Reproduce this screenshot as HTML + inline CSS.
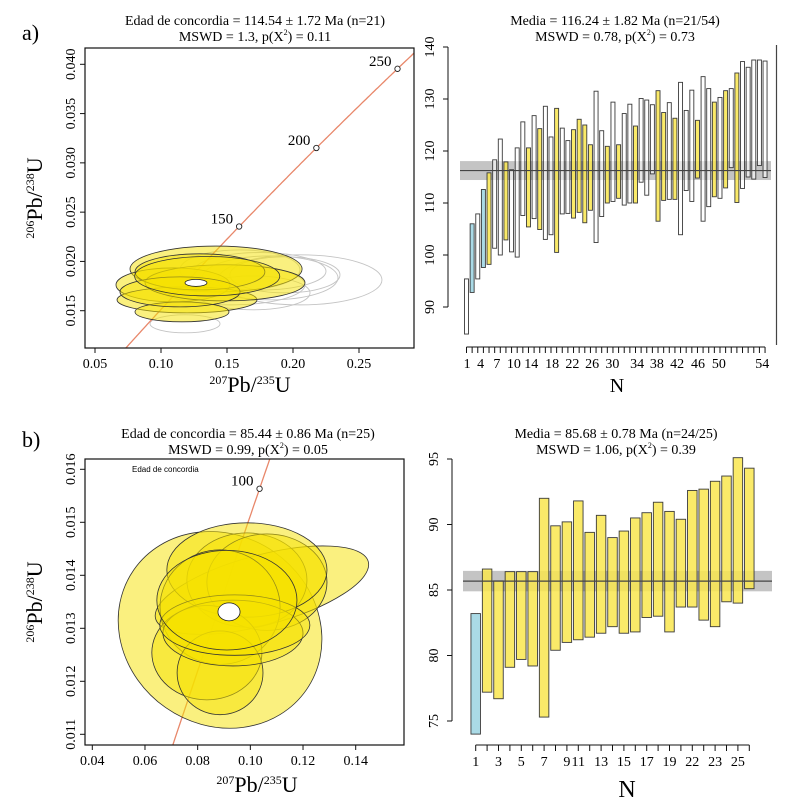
<!DOCTYPE html>
<html><head><meta charset="utf-8"><title>Concordia and weighted mean plots</title>
<style>
html,body{margin:0;padding:0;background:#fff;overflow:hidden;}
svg{display:block;font-family:"Liberation Serif",serif;}
</style></head>
<body>
<svg id="fig" width="808" height="809" viewBox="0 0 808 809" xmlns="http://www.w3.org/2000/svg">
<g id="tl"></g>
<g id="tr"></g>
<g id="bl"></g>
<g id="br"></g>
</svg>
<script>
// ---------- Panel a) weighted mean data ----------
var aTops = [95.4,106.0,107.9,112.6,115.8,118.3,122.3,117.9,116.4,120.6,125.6,120.6,126.8,124.3,128.6,122.7,128.2,124.4,122.0,124.1,126.1,125.0,121.2,131.5,123.9,120.9,129.4,121.2,127.2,129.0,124.8,130.1,129.8,128.9,131.6,127.4,129.3,126.3,133.2,127.8,131.7,125.9,134.3,132.0,129.4,130.3,131.6,132.0,135.0,137.2,136.1,137.5,137.5,137.3];
var aBots = [84.8,92.8,95.4,97.6,98.2,101.3,100.0,102.9,100.6,99.6,107.6,105.4,107.0,104.9,103.0,103.9,100.5,107.9,108.0,107.1,108.2,106.2,108.6,102.4,107.4,110.0,110.3,110.9,109.6,110.0,110.0,114.0,111.5,115.6,106.5,110.5,110.7,110.7,103.9,112.4,110.3,114.8,106.5,109.3,111.2,110.9,112.9,116.8,110.1,112.8,115.0,114.6,117.2,114.9];
var aTypes = "wbwbywwywwwywywwywwyyyywwywywwywwwyywywwwywwywywywwwww";
var aMean = 116.24, aErr = 1.82;
var aYTicks = [90,100,110,120,130,140];
var aXTickLabels = ["1","4","7","10","14","18","22","26","30","34","38","42","46","50","54"];
var aXTickAt = [1.1,3.5,6.4,9.4,12.5,16.2,19.8,23.3,26.9,31.3,34.8,38.4,42.1,45.8,53.5];

// ---------- Panel b) weighted mean data ----------
var bTops = [83.2,86.6,85.7,86.4,86.4,86.4,92.0,89.9,90.2,91.8,89.4,90.7,89.0,89.5,90.5,90.9,91.7,91.0,90.4,92.6,92.7,93.3,93.7,95.1,94.3];
var bBots = [74.0,77.2,76.7,79.1,79.7,79.2,75.3,80.4,81.0,81.2,81.4,81.7,82.2,81.7,81.8,82.9,83.0,81.8,83.7,83.7,82.7,82.2,84.1,84.0,85.1];
var bTypes = "byyyyyyyyyyyyyyyyyyyyyyyy";
var bMean = 85.68, bErr = 0.78;
var bYTicks = [75,80,85,90,95];
var bXTickLabels = ["1","3","5","7","9","11","13","15","17","19","22","23","25"];
var bXTickAt = [1,3,5,7,9,10,12,14,16,18,20,22,24];

// ---------- Concordia a) ellipses (data units) ----------
var aEllX = [0.1417,0.1091,0.1197,0.1159,0.1485,0.1295,0.1144,0.1350];
var aEllY = [0.01923,0.01762,0.01610,0.01488,0.01783,0.01894,0.01691,0.01850];
var aEllSX = [0.0652,0.0432,0.0530,0.0356,0.0606,0.0492,0.0455,0.0550];
var aEllSY = [0.00233,0.00172,0.00132,0.00101,0.00183,0.00183,0.00152,0.00200];
var aGrayX = [0.1826,0.2053,0.1697,0.1182,0.1598,0.1939,0.1523,0.1750];
var aGrayY = [0.01833,0.01813,0.01681,0.01367,0.01914,0.01864,0.01762,0.01900];
var aGraySX = [0.0515,0.0621,0.0432,0.0265,0.0455,0.0417,0.0568,0.0500];
var aGraySY = [0.00223,0.00254,0.00172,0.00091,0.00203,0.00183,0.00203,0.00190];
var aMeanEll = [0.1265,0.01782,0.0083,0.00036];
var aAges = [150,200,250];
var aXTicks = [0.05,0.10,0.15,0.20,0.25];
var aYTicksC = [0.015,0.020,0.025,0.030,0.035,0.040];

// ---------- Concordia b) ellipses ----------
var bEllX = [0.0885,0.1044,0.0987,0.1063,0.0987,0.0885,0.0835,0.0885,0.0934,0.0941,0.0911];
var bEllY = [0.01297,0.01372,0.01391,0.01387,0.01410,0.01340,0.01254,0.01216,0.01291,0.01306,0.01353];
var bEllSX = [0.0399,0.0418,0.0228,0.0228,0.0304,0.0228,0.0209,0.0163,0.0266,0.0285,0.0266];
var bEllSY = [0.00179,0.00066,0.00089,0.00091,0.00089,0.00108,0.00089,0.00079,0.00062,0.00057,0.00094];
var bEllRot = [35,-15,0,0,0,0,0,0,0,0,0];
var bMeanEll = [0.0919,0.01331,0.0042,0.00017];
var bAges = [100];
var bXTicks = [0.04,0.06,0.08,0.10,0.12,0.14];
var bYTicksC = [0.011,0.012,0.013,0.014,0.015,0.016];

var NS = "http://www.w3.org/2000/svg";
function mk(parent, tag, attrs, text){
  var e = document.createElementNS(NS, tag);
  for (var k in attrs) e.setAttribute(k, attrs[k]);
  if (text !== undefined) e.textContent = text;
  parent.appendChild(e);
  return e;
}
var L238 = 1.55125e-10, L235 = 9.8485e-10;
function conc(t){ return [Math.exp(L235*t*1e6)-1, Math.exp(L238*t*1e6)-1]; }

function ratioLabel(g, x, y, rot, top, bot, name){
  var t = mk(g, "text", {x:x, y:y, "font-size":22, "text-anchor":"middle", transform: rot ? "rotate(-90 "+x+" "+y+")" : ""});
  
  
  mk(t, "tspan", {"font-size":12, dy:-8}, top);
  mk(t, "tspan", {dy:8}, "Pb/");
  mk(t, "tspan", {"font-size":12, dy:-8}, bot);
  mk(t, "tspan", {dy:8}, "U");
}
function title(g, cx, y1, l1, l2pre, l2post, name){
  var t = mk(g, "text", {x:cx, y:y1, "font-size":14, "text-anchor":"middle"}, l1);
  
  
  var t2 = mk(g, "text", {x:cx, y:y1+16, "font-size":14, "text-anchor":"middle"});
  
  
  mk(t2, "tspan", {}, l2pre);
  mk(t2, "tspan", {"font-size":8, dy:-6}, "2");
  mk(t2, "tspan", {dy:6}, l2post);
}

function concordia(g, box, xd, yd, xs, ys, xTicks, yTicks, yFmt, xFmt, ell, gray, meanE, ages, ageRange){
  function sx(v){ return box.x0 + (v - xd)*xs; }
  function sy(v){ return box.yref - (v - yd)*ys; }
  var clipId = "clip"+box.id;
  var cp = mk(mk(g,"defs",{}),"clipPath",{id:clipId});
  mk(cp,"rect",{x:box.l, y:box.t, width:box.r-box.l, height:box.b-box.t});
  var inner = mk(g,"g",{"clip-path":"url(#"+clipId+")"});
  
  
  if (gray) for (var i=0;i<gray.x.length;i++){
    var ge = mk(inner,"ellipse",{cx:sx(gray.x[i]), cy:sy(gray.y[i]), rx:gray.sx[i]*xs, ry:gray.sy[i]*ys, fill:"none", stroke:"#c4c4c4", "stroke-width":0.9});
    
    
  }
  var pts = [];
  for (var t=ageRange[0]; t<=ageRange[1]; t+=1){ var c = conc(t); pts.push(sx(c[0]).toFixed(1)+","+sy(c[1]).toFixed(1)); }
  var cl = mk(inner,"polyline",{points:pts.join(" "), fill:"none", stroke:"#e8876a", "stroke-width":1.3});
  
  
  for (var i=0;i<ell.x.length;i++){
    var cx = sx(ell.x[i]), cy = sy(ell.y[i]);
    var rot = ell.rot ? ell.rot[i] : 0;
    var e = mk(inner,"ellipse",{cx:cx, cy:cy, rx:ell.sx[i]*xs, ry:ell.sy[i]*ys, fill:"#f6e200", "fill-opacity":0.5, stroke:"#333", "stroke-width":0.8, transform:"rotate("+rot+" "+cx+" "+cy+")"});
    
    
  }
  var me = mk(inner,"ellipse",{cx:sx(meanE[0]), cy:sy(meanE[1]), rx:meanE[2]*xs, ry:meanE[3]*ys, fill:"#fff", stroke:"#222", "stroke-width":0.8});
  
  
  for (var i=0;i<ages.length;i++){
    var c = conc(ages[i]);
    var m = mk(inner,"circle",{cx:sx(c[0]), cy:sy(c[1]), r:2.7, fill:"#fff", stroke:"#222", "stroke-width":0.9});
    
    
    var ml = mk(inner,"text",{x:sx(c[0])-6, y:sy(c[1])-3, "font-size":15, "text-anchor":"end"}, String(ages[i]));
    
    
  }
  var fr = mk(g,"rect",{x:box.l, y:box.t, width:box.r-box.l, height:box.b-box.t, fill:"none", stroke:"#111", "stroke-width":1.2});
  
  
  for (var i=0;i<xTicks.length;i++){
    var x = sx(xTicks[i]);
    var tk = mk(g,"line",{x1:x, x2:x, y1:box.b, y2:box.b+5, stroke:"#111"});
    
    
    var tl = mk(g,"text",{x:x, y:box.b+20, "font-size":14, "text-anchor":"middle"}, xTicks[i].toFixed(xFmt));
    
    
  }
  for (var i=0;i<yTicks.length;i++){
    var y = sy(yTicks[i]);
    var tk = mk(g,"line",{x1:box.l-5, x2:box.l, y1:y, y2:y, stroke:"#111"});
    
    
    var lx = box.l-10;
    var tl = mk(g,"text",{x:lx, y:y, "font-size":14, "text-anchor":"middle", transform:"rotate(-90 "+lx+" "+y+")"}, yTicks[i].toFixed(yFmt));
    
    
  }
}

function wmean(g, ax, tops, bots, types, mean, err, yTicks, xLabels, xAt, n){
  function sx(N){ return ax.x1 + (N-1)*ax.dx; }
  function sy(v){ return ax.yref - (v - ax.vref)*ax.k; }
  var band = mk(g,"rect",{x:ax.bl, y:sy(mean+err), width:ax.br-ax.bl, height:sy(mean-err)-sy(mean+err), fill:"#b0b0b0", "fill-opacity":0.75});
  
  
  var cols = {w:"#ffffff", y:"#f9e64f", b:"#9bd3e2"};
  for (var i=0;i<tops.length;i++){
    var x = sx(i+1);
    var r = mk(g,"rect",{x:x-ax.w/2, y:sy(tops[i]), width:ax.w, height:sy(bots[i])-sy(tops[i]), fill:cols[types[i]], "fill-opacity":types[i]==="w"?0.6:0.85, stroke:"#3a3a3a", "stroke-width":0.9});
    
    
  }
  var ml = mk(g,"line",{x1:ax.bl, x2:ax.br, y1:sy(mean), y2:sy(mean), stroke:"#444", "stroke-width":1.2});
  
  
  var ya = mk(g,"line",{x1:ax.ax, x2:ax.ax, y1:sy(yTicks[0]), y2:sy(yTicks[yTicks.length-1]), stroke:"#111"});
  
  
  for (var i=0;i<yTicks.length;i++){
    var y = sy(yTicks[i]);
    var tk = mk(g,"line",{x1:ax.ax-5, x2:ax.ax, y1:y, y2:y, stroke:"#111"});
    
    
    var lx = ax.ax-14;
    var tl = mk(g,"text",{x:lx, y:y, "font-size":14, "text-anchor":"middle", transform:"rotate(-90 "+lx+" "+y+")"}, String(yTicks[i]));
    
    
  }
  var xa = mk(g,"line",{x1:sx(1), x2:sx(n), y1:ax.xay, y2:ax.xay, stroke:"#111"});
  
  
  for (var i=1;i<=n;i++){
    var tk = mk(g,"line",{x1:sx(i), x2:sx(i), y1:ax.xay, y2:ax.xay+6, stroke:"#111"});
    
    
  }
  for (var i=0;i<xLabels.length;i++){
    var tl = mk(g,"text",{x:sx(xAt[i]), y:ax.xay+21, "font-size":ax.tfs, "text-anchor":"middle"}, xLabels[i]);
    
    
  }
  var nl = mk(g,"text",{x:ax.nx, y:ax.ny, "font-size":ax.nfs, "text-anchor":"middle"}, "N");
  
  
}

var TL = document.getElementById("tl"), TR = document.getElementById("tr"),
    BL = document.getElementById("bl"), BR = document.getElementById("br");

var pa = mk(TL,"text",{x:22, y:40, "font-size":22}, "a)");


var pb = mk(BL,"text",{x:22, y:447, "font-size":22}, "b)");



title(TL, 255, 25, "Edad de concordia = 114.54 \u00b1 1.72 Ma (n=21)", "MSWD = 1.3, p(X", ") = 0.11", "concordia-a-title");
concordia(TL, {id:"a", l:85, r:414, t:48, b:348, x0:95, yref:64.3},
  0.05, 0.040, 1320, 9856, aXTicks, aYTicksC, 3, 2,
  {x:aEllX, y:aEllY, sx:aEllSX, sy:aEllSY},
  {x:aGrayX, y:aGrayY, sx:aGraySX, sy:aGraySY},
  aMeanEll, aAges, [40, 300]);
ratioLabel(TL, 42, 198, true, "206", "238", "y-axis-title-a");
ratioLabel(TL, 250, 392, false, "207", "235", "x-axis-title-a");

title(TR, 615, 25, "Media = 116.24 \u00b1 1.82 Ma (n=21/54)", "MSWD = 0.78, p(X", ") = 0.73", "mean-a-title");
wmean(TR, {x1:466.5, dx:5.633, w:4, yref:47, vref:140, k:5.2, bl:460, br:771, ax:448, xay:347, nx:617, ny:392, nfs:20, tfs:14},
  aTops, aBots, aTypes, aMean, aErr, aYTicks, aXTickLabels, aXTickAt, 54);
var vl = mk(TR,"line",{x1:776.5, x2:776.5, y1:45, y2:345, stroke:"#444", "stroke-width":1.2});



title(BL, 248, 438, "Edad de concordia = 85.44 \u00b1 0.86 Ma (n=25)", "MSWD = 0.99, p(X", ") = 0.05", "concordia-b-title");
concordia(BL, {id:"b", l:85, r:404, t:459, b:745, x0:92.3, yref:469.3},
  0.04, 0.016, 2634, 53000, bXTicks, bYTicksC, 3, 2,
  {x:bEllX, y:bEllY, sx:bEllSX, sy:bEllSY, rot:bEllRot},
  null, bMeanEll, bAges, [20, 130]);
var ec = mk(BL,"text",{x:132, y:472, "font-size":8, "font-family":"Liberation Sans, sans-serif"}, "Edad de concordia");


ratioLabel(BL, 42, 602, true, "206", "238", "y-axis-title-b");
ratioLabel(BL, 257, 792, false, "207", "235", "x-axis-title-b");

title(BR, 616, 438, "Media = 85.68 \u00b1 0.78 Ma (n=24/25)", "MSWD = 1.06, p(X", ") = 0.39", "mean-b-title");
wmean(BR, {x1:475.7, dx:11.4, w:9.5, yref:590, vref:85, k:13.1, bl:463, br:772, ax:452, xay:745, nx:627, ny:797, nfs:24, tfs:14},
  bTops, bBots, bTypes, bMean, bErr, bYTicks, bXTickLabels, bXTickAt, 25);
</script>
</body></html>
